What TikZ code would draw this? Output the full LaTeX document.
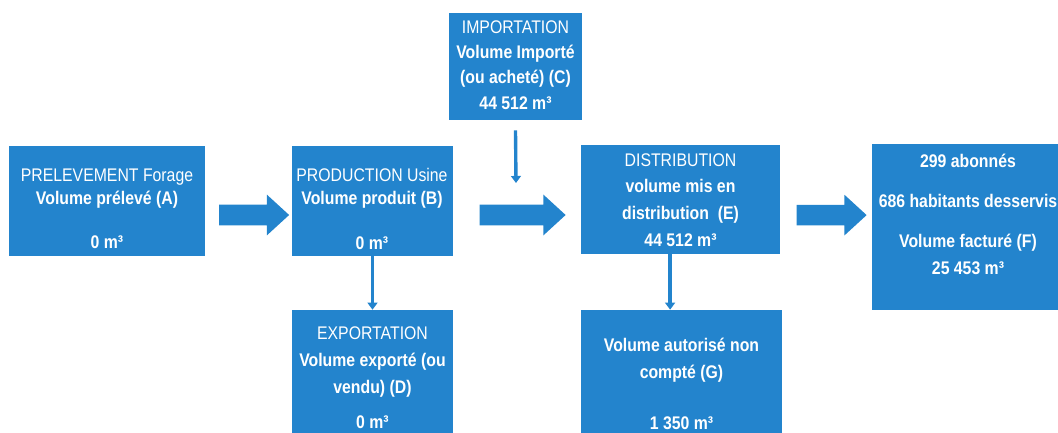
\documentclass[tikz,border=0pt]{standalone}
\usepackage{fontspec}
\setmainfont[FakeStretch=0.865]{Liberation Sans}
\usetikzlibrary{arrows.meta,shapes.arrows}
\definecolor{boxblue}{RGB}{35,132,205}

\begin{document}
\begin{tikzpicture}[x=0.025cm,y=-0.025cm,
    box/.style={fill=boxblue,inner sep=0pt},
    boxtext/.style={text=white,align=center,inner sep=0pt,font=\fontsize{13pt}{16.4pt}\selectfont},
    bigarrow/.style={single arrow,fill=boxblue,inner xsep=0pt,inner ysep=0.25cm,
        single arrow head extend=0.25cm,single arrow tip angle=85},
    flow/.style={draw=boxblue,line width=2.4pt,-{Triangle[width=7pt,length=5pt]}}]
    \useasboundingbox (0,0) rectangle (1058,433);
    \clip (0,0) rectangle (1058,433);
    % boxes
    \node (A) [box,minimum width=4.9cm,minimum height=2.75cm] at (107,201) {};
    \node (B) [box,minimum width=4.025cm,minimum height=2.75cm] at (372.5,201) {};
    \node (C) [box,minimum width=3.325cm,minimum height=2.675cm] at (515.5,66.5) {};
    \node (E) [box,minimum width=4.975cm,minimum height=2.725cm] at (680.5,199.5) {};
    \node (F) [box,minimum width=4.8cm,minimum height=4.15cm] at (968,227) {};
    \node (D) [box,minimum width=4.025cm,minimum height=3.375cm] at (372.5,377.5) {};
    \node (G) [box,minimum width=5.025cm,minimum height=3.7cm] at (681.5,384) {};
    % texts
    \node (A-txt) [boxtext] at (107,209) {PRELEVEMENT Forage\\ \textbf{Volume prélevé (A)}\\[15pt] \textbf{0 m³}};
    \node (B-txt) [boxtext] at (372,209) {PRODUCTION Usine\\ \textbf{Volume produit (B)}\\[15pt] \textbf{0 m³}};
    \node (C-txt) [boxtext] at (515.5,65) {IMPORTATION\\[1.6pt] \textbf{Volume Importé}\\[1.6pt] \textbf{(ou acheté) (C)}\\[1.6pt] \textbf{44 512 m³}};
    \node (E-txt) [boxtext] at (680.5,200) {DISTRIBUTION\\[2.6pt] \textbf{volume mis en}\\[2.6pt] \textbf{distribution~~(E)}\\[2.6pt] \textbf{44 512 m³}};
    \node (F-txt) [boxtext,font=\fontsize{13pt}{16.4pt}\selectfont\bfseries] at (968,214.5) {299 abonnés\\[12pt] 686 habitants desservis\\[12pt] Volume facturé (F)\\[3pt] 25 453 m³};
    \node (D-txt) [boxtext] at (372.5,377.5) {EXPORTATION\\[3pt] \textbf{Volume exporté (ou}\\[3pt] \textbf{vendu) (D)}\\[8pt] \textbf{0 m³}};
    \node (G-txt) [boxtext] at (681.5,384) {\textbf{Volume autorisé non}\\[2.8pt] \textbf{compté (G)}\\[20pt] \textbf{1 350 m³}};
    % big arrows
    \path ([yshift=-0.35cm]A.east) -- ([yshift=-0.35cm]B.west) node (AB) [bigarrow,midway,minimum height=1.75cm] {};
    \path ([yshift=-0.35cm]B.east) -- ([yshift=-0.35cm]B.east -| E.west) node (BE) [bigarrow,midway,minimum height=2.15cm] {};
    \path ([yshift=-0.39cm]E.east) -- ([yshift=-0.39cm]E.east -| F.west) node (EF) [bigarrow,midway,minimum height=1.75cm] {};
    % thin arrows
    \coordinate (C-in) at (516,183);
    \draw[flow] ([yshift=-0.25cm]C.south) -- (C-in);
    \draw[flow] (B.south) -- (D.north);
    \draw[flow] ([xshift=-0.26cm]E.south) -- ([xshift=-0.26cm]E.south |- G.north);
\end{tikzpicture}
\end{document}
